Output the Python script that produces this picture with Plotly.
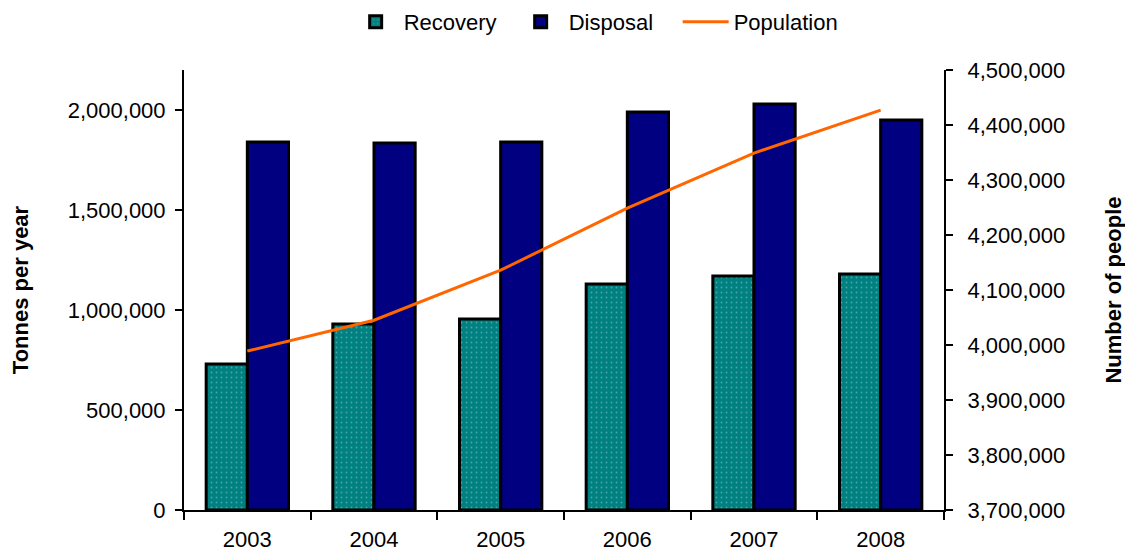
import plotly.graph_objects as go

years = ["2003", "2004", "2005", "2006", "2007", "2008"]
recovery = [730000, 930000, 955000, 1130000, 1170000, 1180000]
disposal = [1840000, 1835000, 1840000, 1990000, 2030000, 1950000]
population = [3989000, 4045000, 4136000, 4249000, 4349000, 4427000]

FONT = "Liberation Sans, Arial, sans-serif"

fig = go.Figure()
fig.add_trace(go.Bar(
    x=years, y=recovery, name="Recovery",
    marker=dict(color="#008080",
                line=dict(color="black", width=3),
                pattern=dict(shape=".", fgcolor="#8fcfcf", bgcolor="#008080",
                             size=5, solidity=0.1)),
))
fig.add_trace(go.Bar(
    x=years, y=disposal, name="Disposal",
    marker=dict(color="#000080", line=dict(color="black", width=3)),
))
fig.add_trace(go.Scatter(
    x=years, y=population, name="Population", yaxis="y2",
    mode="lines", line=dict(color="#FF6600", width=3),
))

fig.update_layout(
    width=1133, height=555,
    paper_bgcolor="white", plot_bgcolor="white",
    margin=dict(l=176, r=197, t=62, b=53),
    font=dict(family=FONT, size=22, color="black"),
    barmode="group", bargap=0.35, bargroupgap=0,
    showlegend=True,
    legend=dict(orientation="h", x=0.541, xanchor="center", y=0.975, yanchor="middle",
                yref="container", font=dict(size=22), itemwidth=46,
                entrywidth=104, entrywidthmode="pixels",
                traceorder="normal"),
    xaxis=dict(type="category", showline=True, linecolor="black", linewidth=2,
               ticks="outside", ticklen=8, tickwidth=1.5, tickcolor="black",
               tickson="boundaries", showgrid=False, zeroline=False, automargin=False,
               ticklabelstandoff=9, tickfont=dict(size=22)),
    yaxis=dict(range=[0, 2200000], dtick=500000, tickformat=",",
               showline=True, linecolor="black", linewidth=2,
               ticks="outside", ticklen=7, tickwidth=1.5, tickcolor="black",
               showgrid=False, zeroline=False, tickfont=dict(size=22), automargin=False,
               ticklabelstandoff=5,
               title=dict(text="<b>Tonnes per year</b>", font=dict(size=22), standoff=34)),
    yaxis2=dict(range=[3700000, 4500000], dtick=100000, tickformat=",",
                overlaying="y", side="right",
                showline=True, linecolor="black", linewidth=2,
                ticks="outside", ticklen=7, tickwidth=1.5, tickcolor="black",
                showgrid=False, zeroline=False, tickfont=dict(size=22), automargin=False,
                ticklabelstandoff=10,
                title=dict(text="<b>Number of people</b>", font=dict(size=22), standoff=41)),
)

fig.write_html("out.html")
